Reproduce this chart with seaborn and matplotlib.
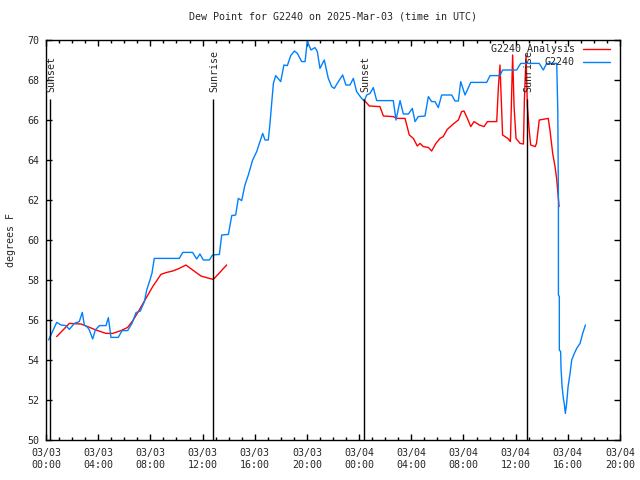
import matplotlib
matplotlib.use('Agg')
import matplotlib.pyplot as plt
import seaborn as sns
from matplotlib.ticker import MultipleLocator

sns.set_style('ticks')
plt.rcParams['font.family'] = ['DejaVu Sans Mono']
plt.rcParams['font.size'] = 7.2

# ---- data (hours since 2025-03-03 00:00 UTC, degrees F) ----
obs_hours = [0.2, 0.5, 0.82, 1.15, 1.53, 1.79, 2.17, 2.55, 2.78, 2.94, 3.19, 3.32, 3.58, 3.78,
             4.09, 4.6, 4.78, 4.98, 5.54, 5.83, 6.26, 6.59, 6.9, 7.23, 7.54, 7.72, 7.97, 8.12,
             8.3, 10.22, 10.48, 11.24, 11.55, 11.8, 12.06, 12.52, 12.77, 13.29, 13.47, 13.98,
             14.24, 14.54, 14.74, 15.0, 15.25, 15.51, 15.84, 16.15, 16.4, 16.61, 16.79, 17.04,
             17.17, 17.43, 17.61, 17.99, 18.24, 18.5, 18.76, 19.04, 19.27, 19.6, 19.86, 20.03,
             20.31, 20.62, 20.8, 21.0, 21.33, 21.64, 21.9, 22.1, 22.41, 22.74, 22.99, 23.3,
             23.56, 23.81, 24.19, 24.4, 24.58, 24.84, 25.09, 25.35, 26.62, 26.83, 27.14, 27.39,
             27.78, 28.08, 28.29, 28.54, 29.05, 29.31, 29.56, 29.82, 30.07, 30.33, 31.1, 31.35,
             31.61, 31.79, 32.12, 32.56, 33.78, 34.04, 34.8, 35.0, 36.08, 36.39, 37.81, 38.12,
             38.38, 39.15, 39.23, 39.28, 39.28, 39.35, 39.35, 39.45, 39.48, 39.56, 39.66, 39.73,
             39.81, 39.91, 40.02, 40.17, 40.3, 40.48, 40.68, 40.94, 41.14, 41.35]
obs_dewpt = [55.0, 55.42, 55.88, 55.75, 55.72, 55.53, 55.83, 55.92, 56.38, 55.75, 55.63, 55.5, 55.05, 55.5,
             55.72, 55.72, 56.12, 55.13, 55.13, 55.47, 55.47, 55.83, 56.37, 56.45, 56.92, 57.5, 58.0, 58.33,
             59.08, 59.08, 59.38, 59.38, 59.05, 59.3, 59.0, 59.0, 59.25, 59.28, 60.25, 60.28,
             61.22, 61.25, 62.08, 61.97, 62.75, 63.25, 64.0, 64.42, 64.92, 65.33, 65.0, 65.0,
             65.83, 67.83, 68.22, 67.92, 68.75, 68.72, 69.22, 69.45, 69.33, 68.92, 68.92, 69.95,
             69.5, 69.62, 69.42, 68.58, 69.0, 68.08, 67.67, 67.58, 67.92, 68.25, 67.75, 67.75,
             68.08, 67.42, 67.08, 66.95, 67.25, 67.33, 67.62, 66.97, 66.97, 66.0, 66.97, 66.3,
             66.3, 66.58, 65.92, 66.17, 66.2, 67.17, 66.92, 66.92, 66.62, 67.25, 67.25, 66.95,
             66.95, 67.92, 67.25, 67.88, 67.88, 68.22, 68.22, 68.5, 68.5, 68.83, 68.83, 68.5,
             68.83, 68.83, 66.5, 62.0, 57.25, 57.17, 54.5, 54.42, 53.58, 52.67, 52.08, 51.8,
             51.33, 51.83, 52.67, 53.33, 54.0, 54.3, 54.58, 54.83, 55.33, 55.75]

ana1_hours = [0.82, 1.79, 2.68, 3.19, 3.83, 4.6, 5.11, 5.75, 6.26, 6.69, 7.15, 7.66, 8.18, 8.81,
              9.2, 9.71, 10.22, 10.73, 11.24, 11.88, 12.52, 12.83, 13.85]
ana1_dewpt = [55.17, 55.83, 55.8, 55.67, 55.5, 55.33, 55.33, 55.47, 55.63, 56.0, 56.5, 57.08, 57.67, 58.28,
              58.37, 58.45, 58.58, 58.75, 58.5, 58.2, 58.08, 58.03, 58.75]

ana2_hours = [24.33, 24.79, 25.6, 25.86, 26.62, 26.88, 27.52, 27.85, 28.16, 28.46, 28.67, 28.92, 29.31,
              29.56, 29.89, 30.2, 30.45, 30.76, 31.22, 31.61, 31.86, 32.04, 32.3, 32.56, 32.81, 33.22,
              33.58, 33.84, 34.55, 34.68, 34.8, 34.9, 35.0, 35.4, 35.6, 35.77, 35.88, 36.03, 36.34,
              36.6, 36.67, 36.8, 36.9, 37.05, 37.15, 37.5, 37.6, 37.81, 38.5, 38.63, 38.84, 39.02,
              39.15, 39.23, 39.33]
ana2_dewpt = [67.03, 66.7, 66.67, 66.2, 66.17, 66.08, 66.08, 65.25, 65.08, 64.7, 64.83, 64.67, 64.63,
              64.45, 64.83, 65.08, 65.17, 65.53, 65.8, 66.0, 66.42, 66.45, 66.08, 65.67, 65.92, 65.75,
              65.67, 65.92, 65.92, 67.67, 68.75, 67.0, 65.25, 65.08, 64.92, 69.25, 66.67, 65.08, 64.83,
              64.8, 67.0, 69.25, 66.67, 65.42, 64.75, 64.67, 64.83, 66.0, 66.08, 65.5, 64.33, 63.67,
              63.03, 62.42, 61.67]

event_hours = [0.3, 12.8, 24.4, 36.9]
event_labels = ['Sunset', 'Sunrise', 'Sunset', 'Sunrise']

tick_hours = list(range(0, 45, 4))
tick_labels = ['03/03\n00:00', '03/03\n04:00', '03/03\n08:00', '03/03\n12:00', '03/03\n16:00',
               '03/03\n20:00', '03/04\n00:00', '03/04\n04:00', '03/04\n08:00', '03/04\n12:00',
               '03/04\n16:00', '03/04\n20:00']

RED = '#ff0000'
BLUE = '#0080ff'

fig = plt.figure(figsize=(6.4, 4.8), dpi=100)
ax = fig.add_axes([46 / 640, 40 / 480, 574 / 640, 400 / 480])

sns.lineplot(x=ana1_hours, y=ana1_dewpt, ax=ax, color=RED, lw=1, estimator=None, sort=False)
sns.lineplot(x=ana2_hours, y=ana2_dewpt, ax=ax, color=RED, lw=1, estimator=None, sort=False)
sns.lineplot(x=obs_hours, y=obs_dewpt, ax=ax, color=BLUE, lw=1, estimator=None, sort=False)

ax.vlines(event_hours, 50, 67.05, colors='black', lw=1)
for h, lab in zip(event_hours, event_labels):
    ax.text(h + 0.1, 67.4, lab, rotation=90, ha='center', va='bottom', fontsize=7.2)

ax.set_xlim(0, 44)
ax.set_ylim(50, 70)
ax.set_xticks(tick_hours)
ax.set_xticklabels(tick_labels)
ax.xaxis.set_minor_locator(MultipleLocator(1))
ax.set_yticks(range(50, 71, 2))
ax.tick_params(which='both', direction='in', top=True, right=True, color='black',
               labelsize=7.2, width=1)
ax.tick_params(which='major', length=4.5)
ax.tick_params(which='minor', length=2.5)
ax.tick_params(axis='x', pad=6)
ax.tick_params(axis='y', pad=5)
for s in ax.spines.values():
    s.set_color('black')
    s.set_linewidth(1)

ax.set_xlabel('')
ax.set_ylabel('degrees F', fontsize=7.2, labelpad=8)
ax.set_title('Dew Point for G2240 on 2025-Mar-03 (time in UTC)', fontsize=7.2, pad=15)

# legend (gnuplot style: text right-aligned, line sample to the right)
for yy, lab, col in [(0.9775, 'G2240 Analysis', RED), (0.945, 'G2240', BLUE)]:
    ax.text(0.9216, yy, lab, transform=ax.transAxes, ha='right', va='center', fontsize=7.2)
    ax.plot([0.9355, 0.9826], [yy, yy], transform=ax.transAxes, color=col, lw=1)

fig.savefig('out.png', dpi=100)
